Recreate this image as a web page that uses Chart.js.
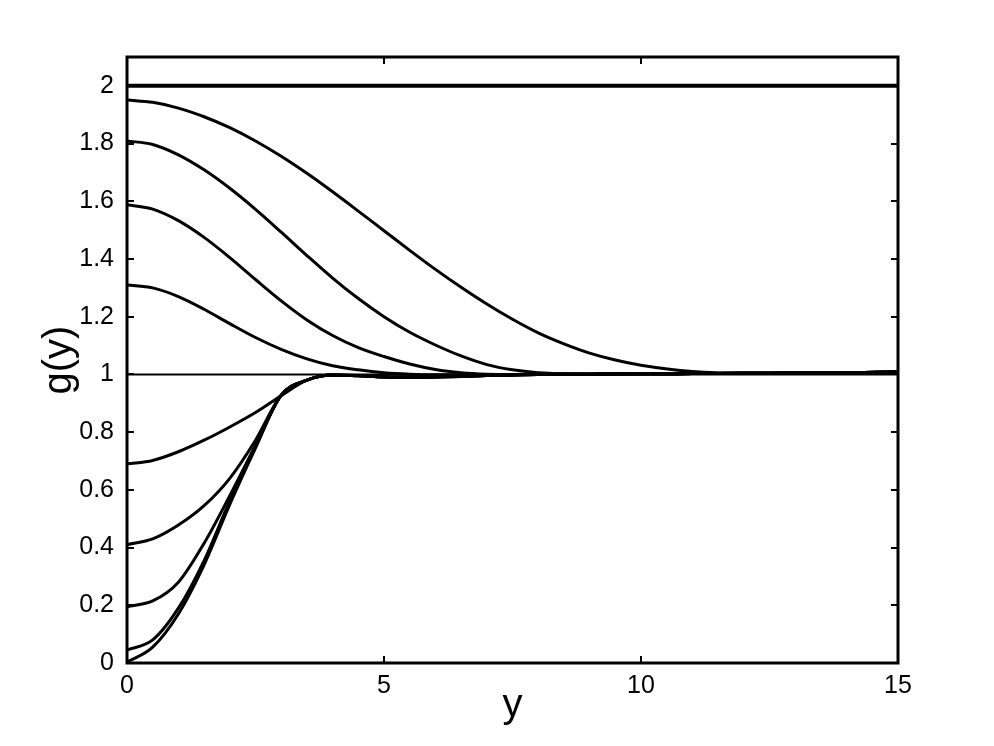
<!DOCTYPE html>
<html>
<head>
<meta charset="utf-8">
<script src="https://cdn.jsdelivr.net/npm/chart.js@4/dist/chart.umd.min.js"></script>
<style>
  html, body { margin: 0; padding: 0; background: #fff; }
  #wrap { width: 994px; height: 746px; }
</style>
</head>
<body>
<div id="wrap"><canvas id="gChart" width="994" height="746"></canvas></div>
<script>
// sample points along y (horizontal axis)
const xs = [0, 0.5, 1, 1.5, 2, 2.5, 3, 3.5, 4, 4.5, 5, 5.5, 6, 6.5, 7, 7.5, 8, 8.5, 9, 9.5, 10, 11, 12, 13, 14, 15];

// curves above 1
const g195 = [1.951, 1.943, 1.923, 1.893, 1.855, 1.809, 1.756, 1.697, 1.633, 1.566, 1.498, 1.430, 1.364, 1.302, 1.244, 1.191, 1.144, 1.106, 1.074, 1.050, 1.032, 1.010, 1.004, 1.004, 1.006, 1.008];
const g181 = [1.809, 1.797, 1.761, 1.709, 1.645, 1.572, 1.493, 1.412, 1.334, 1.263, 1.200, 1.146, 1.102, 1.064, 1.034, 1.016, 1.006, 1.002, 1.001, 1.001, 1.002, 1.003, 1.004, 1.005, 1.006, 1.008];
const g159 = [1.588, 1.573, 1.533, 1.475, 1.405, 1.329, 1.255, 1.189, 1.135, 1.093, 1.062, 1.036, 1.017, 1.006, 1.001, 1.000, 1.000, 1.001, 1.001, 1.002, 1.002, 1.003, 1.004, 1.005, 1.006, 1.008];
const g131 = [1.310, 1.300, 1.270, 1.226, 1.176, 1.128, 1.087, 1.054, 1.030, 1.016, 1.006, 1.001, 0.999, 0.999, 1.000, 1.000, 1.001, 1.001, 1.001, 1.002, 1.002, 1.003, 1.004, 1.005, 1.006, 1.008];

// curves below 1
const g069 = [0.690, 0.702, 0.732, 0.772, 0.818, 0.868, 0.926, 0.980, 0.998, 0.996, 0.992, 0.991, 0.992, 0.994, 0.996, 0.998, 1.000, 1.001, 1.001, 1.002, 1.002, 1.003, 1.004, 1.005, 1.006, 1.008];
const g041 = [0.410, 0.430, 0.478, 0.545, 0.640, 0.772, 0.928, 0.980, 0.998, 0.996, 0.992, 0.991, 0.992, 0.994, 0.996, 0.998, 1.000, 1.001, 1.001, 1.002, 1.002, 1.003, 1.004, 1.005, 1.006, 1.008];
const g019 = [0.195, 0.215, 0.280, 0.415, 0.580, 0.755, 0.928, 0.980, 0.998, 0.995, 0.991, 0.990, 0.991, 0.993, 0.996, 0.998, 1.000, 1.001, 1.001, 1.002, 1.002, 1.003, 1.004, 1.005, 1.006, 1.008];
const g005 = [0.045, 0.080, 0.190, 0.355, 0.562, 0.750, 0.928, 0.980, 0.998, 0.995, 0.991, 0.990, 0.991, 0.993, 0.996, 0.998, 1.000, 1.001, 1.001, 1.002, 1.002, 1.003, 1.004, 1.005, 1.006, 1.008];
const g000 = [0.003, 0.055, 0.170, 0.340, 0.550, 0.745, 0.928, 0.980, 0.998, 0.995, 0.991, 0.990, 0.991, 0.993, 0.996, 0.998, 1.000, 1.001, 1.001, 1.002, 1.002, 1.003, 1.004, 1.005, 1.006, 1.008];

// flat reference lines
const xEnds = [0, 15];
const flatTwo = [2, 2];
const flatOne = [1, 1];

const xTicks = [0, 5, 10, 15];
const yTicks = [0, 0.2, 0.4, 0.6, 0.8, 1, 1.2, 1.4, 1.6, 1.8, 2];

function pts(xv, yv) {
  return xv.map((x, i) => ({ x: x, y: yv[i] }));
}

function curve(yv) {
  return {
    data: pts(xs, yv),
    borderColor: "#000",
    borderWidth: 3,
    pointRadius: 0,
    cubicInterpolationMode: "monotone",
    fill: false,
  };
}

const datasets = [
  { data: pts(xEnds, flatTwo), borderColor: "#000", borderWidth: 4, pointRadius: 0 },
  { data: pts(xEnds, flatOne), borderColor: "#000", borderWidth: 2, pointRadius: 0 },
  curve(g195),
  curve(g181),
  curve(g159),
  curve(g131),
  curve(g069),
  curve(g041),
  curve(g019),
  curve(g005),
  curve(g000),
];

// box with inward ticks, like the original axes
const boxTicks = {
  id: "boxTicks",
  afterDraw(chart) {
    const { ctx, chartArea: a, scales } = chart;
    const len = 7;
    ctx.save();
    ctx.strokeStyle = "#000";
    ctx.lineWidth = 2;
    ctx.beginPath();
    xTicks.forEach((v) => {
      const px = Math.round(scales.x.getPixelForValue(v));
      ctx.moveTo(px, a.bottom); ctx.lineTo(px, a.bottom - len);
      ctx.moveTo(px, a.top); ctx.lineTo(px, a.top + len);
    });
    yTicks.forEach((v) => {
      const py = Math.round(scales.y.getPixelForValue(v));
      ctx.moveTo(a.left, py); ctx.lineTo(a.left + len, py);
      ctx.moveTo(a.right, py); ctx.lineTo(a.right - len, py);
    });
    ctx.stroke();
    ctx.lineWidth = 3;
    ctx.strokeRect(a.left, a.top, a.right - a.left, a.bottom - a.top);
    ctx.restore();
  },
};

const fam = "'Liberation Sans', Arial, sans-serif";
const tickFont = { family: fam, size: 25 };

const gChart = new Chart(document.getElementById("gChart"), {
  type: "line",
  data: { datasets: datasets },
  options: {
    responsive: false,
    animation: false,
    layout: { padding: { left: 0, top: 57, right: 96, bottom: 0 } },
    plugins: { legend: { display: false }, tooltip: { enabled: false } },
    scales: {
      x: {
        type: "linear",
        min: 0,
        max: 15,
        afterBuildTicks: (s) => { s.ticks = xTicks.map((v) => ({ value: v })); },
        afterFit: (s) => { s.height = 83; },
        grid: { display: false },
        border: { display: false },
        ticks: { font: tickFont, color: "#000", padding: 0, maxRotation: 0, autoSkip: false },
        title: {
          display: true,
          text: "y",
          color: "#000",
          font: { family: fam, size: 40 },
          padding: { top: 0, bottom: 16 },
        },
      },
      y: {
        min: 0,
        max: 2.1,
        afterBuildTicks: (s) => { s.ticks = yTicks.map((v) => ({ value: v })); },
        afterFit: (s) => { s.width = 127; },
        grid: { display: false },
        border: { display: false },
        ticks: {
          font: tickFont,
          color: "#000",
          padding: 5,
          autoSkip: false,
          callback: (v) => String(Math.round(v * 10) / 10),
        },
        title: {
          display: true,
          text: "g(y)",
          color: "#000",
          font: { family: fam, size: 40 },
          padding: { top: 36, bottom: 0 },
        },
      },
    },
  },
  plugins: [boxTicks],
});
</script>
</body>
</html>
